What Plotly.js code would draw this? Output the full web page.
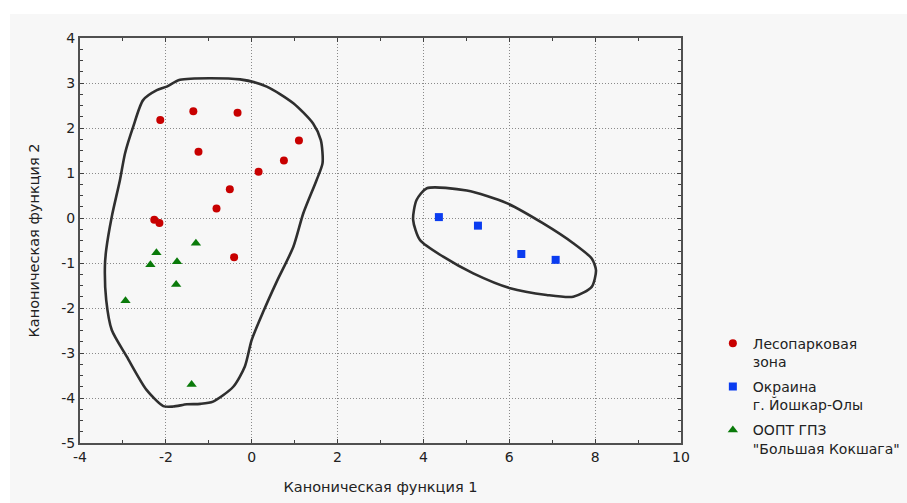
<!DOCTYPE html>
<html>
<head>
<meta charset="utf-8">
<script src="https://cdn.plot.ly/plotly-3.0.1.min.js"></script>
<style>html,body{margin:0;padding:0;background:#fff;}#chart{width:907px;height:503px;}</style>
</head>
<body>
<div id="chart"></div>
<script>
// Series names
const seriesNames = ["Лесопарковая<br>зона", "Окраина<br>г. Йошкар-Олы", "ООПТ ГПЗ<br>\"Большая Кокшага\""];

// Лесопарковая зона (red circles)
const forestX = [-2.13, -1.36, -0.33, -1.24, 1.10, 0.75, 0.16, -0.51, -0.82, -2.27, -2.15, -0.41];
const forestY = [2.18, 2.37, 2.34, 1.47, 1.72, 1.28, 1.03, 0.64, 0.21, -0.04, -0.11, -0.87];

// Окраина г. Йошкар-Олы (blue squares)
const outskirtsX = [4.36, 5.27, 6.28, 7.08];
const outskirtsY = [0.02, -0.17, -0.80, -0.93];

// ООПТ ГПЗ "Большая Кокшага" (green triangles)
const reserveX = [-1.30, -2.22, -2.36, -1.74, -1.76, -2.94, -1.40];
const reserveY = [-0.56, -0.77, -1.04, -0.97, -1.48, -1.84, -3.70];

// Hand-drawn enclosing outlines
const leftHullX = [-1.67, -0.27, 0.35, 0.97, 1.43, 1.61, 1.65, 1.51, 1.20, 0.97, 0.58, 0.27, 0.00, -0.16, -0.43, -0.90, -1.20, -1.51, -1.83, -2.06, -2.45, -2.91, -3.26, -3.39, -3.42, -3.39, -3.26, -3.07, -2.95, -2.76, -2.53, -2.21, -1.98, -1.67];
const leftHullY = [3.07, 3.08, 2.92, 2.55, 2.10, 1.73, 1.22, 0.84, 0.10, -0.64, -1.42, -2.08, -2.71, -3.30, -3.75, -4.08, -4.13, -4.14, -4.19, -4.18, -3.82, -3.08, -2.49, -1.82, -1.08, -0.71, 0.03, 0.84, 1.44, 2.03, 2.62, 2.84, 2.92, 3.07];
const rightHullX = [4.08, 5.01, 5.94, 6.79, 7.49, 7.92, 8.02, 7.92, 7.49, 6.87, 6.02, 5.16, 4.46, 3.92, 3.76, 3.84, 4.08];
const rightHullY = [0.66, 0.61, 0.33, -0.12, -0.56, -0.90, -1.16, -1.53, -1.75, -1.71, -1.56, -1.23, -0.86, -0.49, -0.04, 0.40, 0.66];

const xTickVals = [-4, -2, 0, 2, 4, 6, 8, 10];
const yTickVals = [-5, -4, -3, -2, -1, 0, 1, 2, 3, 4];

const font = "'DejaVu Sans', Verdana, sans-serif";
const hullLine = {color: "#2f2f2f", width: 2.6, shape: "spline", smoothing: 0.7};

const traces = [
  {x: leftHullX, y: leftHullY, mode: "lines", line: hullLine, showlegend: false, hoverinfo: "skip"},
  {x: rightHullX, y: rightHullY, mode: "lines", line: hullLine, showlegend: false, hoverinfo: "skip"},
  {x: forestX, y: forestY, mode: "markers", name: seriesNames[0], legendgroup: "a",
   marker: {symbol: "circle", size: 8, color: "#c80000"}},
  {x: outskirtsX, y: outskirtsY, mode: "markers", name: seriesNames[1], legendgroup: "b",
   marker: {symbol: "square", size: 8, color: "#0a3cf0"}},
  {x: reserveX, y: reserveY, mode: "markers", name: seriesNames[2], legendgroup: "c",
   marker: {symbol: "triangle-up", size: 9, color: "#0a7a0a"}}
];

const axisCommon = {
  showline: true, linecolor: "#505050", linewidth: 2, mirror: "ticks",
  ticks: "inside", ticklen: 4, tickcolor: "#404040", tickwidth: 1,
  showgrid: true, gridcolor: "#8a8a8a", griddash: "1px,2px", gridwidth: 1,
  zeroline: false, tickfont: {family: font, size: 14, color: "#222"}
};

const layout = {
  width: 907, height: 503,
  margin: {l: 80, r: 226, t: 38, b: 60, autoexpand: false},
  paper_bgcolor: "#ffffff",
  plot_bgcolor: "#f7f7f7",
  font: {family: font, size: 14, color: "#222"},
  xaxis: Object.assign({}, axisCommon, {
    range: [-4, 10], tickvals: xTickVals, ticktext: xTickVals.map(String),
    minor: {dtick: 1, ticks: "inside", ticklen: 3, tickcolor: "#404040", showgrid: false},
    title: {text: "Каноническая функция 1", font: {family: font, size: 14.5, color: "#222"}, standoff: 18}
  }),
  yaxis: Object.assign({}, axisCommon, {
    range: [-5, 4], tickvals: yTickVals, ticktext: yTickVals.map(String),
    minor: {dtick: 0.25, ticks: "inside", ticklen: 3, tickcolor: "#404040", showgrid: false},
    title: {text: "Каноническая функция 2", font: {family: font, size: 14.5, color: "#222"}, standoff: 18}
  }),
  legend: {
    x: 1.053, xanchor: "left", y: 0.285, yanchor: "top",
    bgcolor: "rgba(0,0,0,0)", valign: "top", traceorder: "grouped",
    font: {family: font, size: 14, color: "#222"}, tracegroupgap: 4
  },
  shapes: [{
    type: "rect", xref: "paper", yref: "paper", layer: "below",
    x0: -0.1165, x1: 1.4, y0: -0.16, y1: 1.059,
    fillcolor: "#f7f7f7", line: {width: 0}
  }],
  showlegend: true
};

Plotly.newPlot("chart", traces, layout, {staticPlot: true, displayModeBar: false});
</script>
</body>
</html>
